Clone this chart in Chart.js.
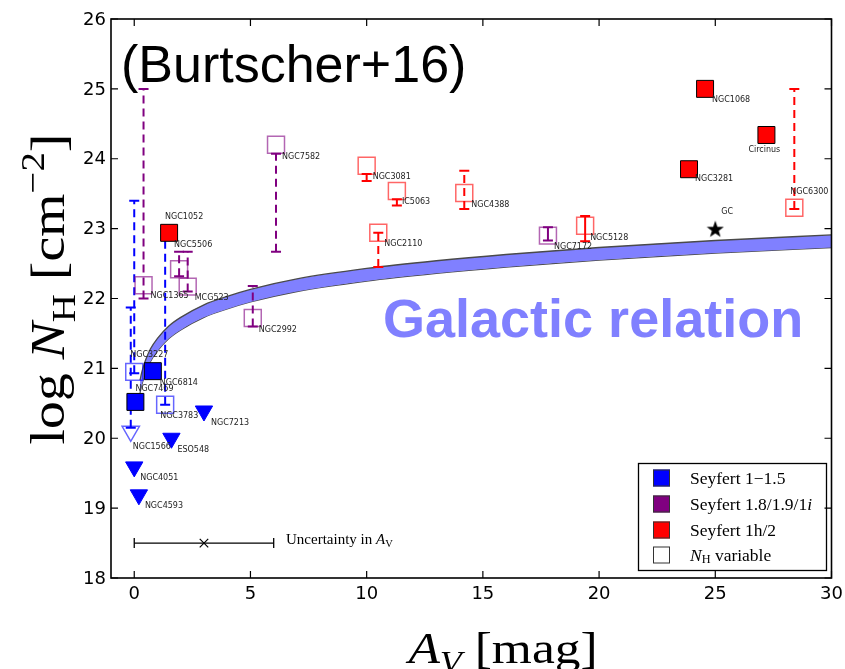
<!DOCTYPE html>
<html><head><meta charset="utf-8">
<script src="https://cdn.jsdelivr.net/npm/chart.js@4.4.0/dist/chart.umd.min.js"></script>
<style>html,body{margin:0;padding:0;background:#fff}#wrap{width:845px;height:669px}</style>
</head><body><div id="wrap"><canvas id="c" width="845" height="669"></canvas></div>
<script>
// ---------------- DATA ----------------
const xTicks = [0, 5, 10, 15, 20, 25, 30];
const yTicks = [18, 19, 20, 21, 22, 23, 24, 25, 26];

// Seyfert 1-1.5 (blue)
const s1FilledNames = ['NGC7469', 'NGC6814'];
const s1FilledX = [0.05, 0.8];
const s1FilledY = [20.52, 20.96];
const s1OpenNames = ['NGC3227', 'NGC3783'];
const s1OpenX = [0.0, 1.33];
const s1OpenY = [20.95, 20.48];
const s1UpperNames = ['NGC7213', 'ESO548', 'NGC4051', 'NGC4593'];
const s1UpperX = [3.0, 1.6, 0.0, 0.2];
const s1UpperY = [20.39, 20.0, 19.59, 19.19];
const s1OpenUpperNames = ['NGC1566'];
const s1OpenUpperX = [-0.15];
const s1OpenUpperY = [20.1];

// Seyfert 1.8/1.9/1i (purple), all NH variable
const s2OpenNames = ['NGC1365', 'NGC5506', 'MCG523', 'NGC2992', 'NGC7582', 'NGC7172'];
const s2OpenX = [0.4, 1.93, 2.3, 5.1, 6.1, 17.8];
const s2OpenY = [22.19, 22.42, 22.17, 21.72, 24.2, 22.9];

// Seyfert 1h/2 (red)
const s3FilledNames = ['NGC1052', 'NGC1068', 'Circinus', 'NGC3281'];
const s3FilledX = [1.5, 24.56, 27.2, 23.87];
const s3FilledY = [22.94, 25.0, 24.34, 23.85];
const s3OpenNames = ['NGC3081', 'IC5063', 'NGC4388', 'NGC2110', 'NGC5128', 'NGC6300'];
const s3OpenX = [10.0, 11.3, 14.2, 10.5, 19.4, 28.4];
const s3OpenY = [23.9, 23.54, 23.51, 22.94, 23.04, 23.3];

// Galactic centre
const gcNames = ['GC'];
const gcX = [25.0];
const gcY = [23.0];

// NH ranges / error bars
const ebNames = ['NGC3227','NGC1566','NGC3783','NGC1365','NGC5506','MCG523','NGC2992','NGC7582','NGC7172','NGC3081','IC5063','NGC4388','NGC2110','NGC5128','NGC6300'];
const ebClass = ['s1','s1','s1','s2','s2','s2','s2','s2','s2','s3','s3','s3','s3','s3','s3'];
const ebX  = [0.0, -0.15, 1.33, 0.4, 1.93, 2.3, 5.1, 6.1, 17.8, 10.0, 11.3, 14.2, 10.5, 19.4, 28.4];
const ebLo = [20.93, 20.15, 20.48, 22.0, 22.32, 22.1, 21.6, 22.67, 22.83, 23.68, 23.33, 23.28, 22.45, 22.82, 23.28];
const ebHi = [23.4, 21.87, 23.0, 25.0, 22.67, 22.67, 22.18, 24.07, 23.02, 23.78, 23.42, 23.83, 22.94, 23.18, 25.0];
const ebVariable = [true, true, true, true, true, true, true, true, false, false, false, true, true, false, true];

// Galactic relation band
const galAv    = [0.25, 0.3, 0.4, 0.5, 0.7, 1, 1.5, 2, 3, 4, 5, 7, 10, 13, 16, 20, 25, 30];
const galLower = [20.65, 20.73, 20.85, 20.95, 21.10, 21.25, 21.43, 21.55, 21.73, 21.85, 21.95, 22.10, 22.25, 22.36, 22.45, 22.55, 22.65, 22.73];
const galUpper = [20.83, 20.91, 21.03, 21.13, 21.28, 21.43, 21.61, 21.73, 21.91, 22.03, 22.13, 22.28, 22.43, 22.54, 22.63, 22.73, 22.83, 22.91];

// Uncertainty in A_V
const uncAv = [3];
const uncErr = [3];
const uncY = [18.5];

// ---------------- STYLE ----------------
const COL = {s1:'#0000ff', s2:'#800080', s3:'#ff0000'};
const COLA = {s1:'rgba(0,0,255,0.6)', s2:'rgba(128,0,128,0.6)', s3:'rgba(255,0,0,0.6)'};
const labelOffset = {
  NGC1068:[7,11], Circinus:[-18,15], NGC3281:[6,10], NGC6300:[-4,-16], GC:[6,-17],
  NGC3081:[6,11], IC5063:[5,11], NGC4388:[7,12], NGC2110:[6,11], NGC7172:[6,11],
  NGC5128:[5,12], NGC7582:[6,12], NGC2992:[6,12], NGC1052:[-4,-16], NGC5506:[-5,-24],
  NGC1365:[7,11], MCG523:[7,11], NGC3227:[-4,-17], NGC7469:[0,-13], NGC6814:[7,12],
  NGC3783:[-5,11], NGC7213:[7,12], NGC1566:[2,16], ESO548:[6,12], NGC4051:[6,11], NGC4593:[6,11]
};

function pts(xs, ys){ return xs.map((x,i)=>({x, y:ys[i]})); }

function makeStar(size){
  const c = document.createElement('canvas'); c.width = size; c.height = size;
  const g = c.getContext('2d'); g.fillStyle = '#000'; g.beginPath();
  const cx = size/2, cy = size/2 + size*0.06, R = size/2, r = R*0.4;
  for (let i=0;i<10;i++){ const a = -Math.PI/2 + i*Math.PI/5; const rr = i%2 ? r : R; g.lineTo(cx+rr*Math.cos(a), cy+rr*Math.sin(a)); }
  g.closePath(); g.fill(); return c;
}
const starImg = makeStar(18);

const datasets = [];
// band
datasets.push({type:'line', data:pts(galAv, galLower), borderColor:'#4a4a4a', borderWidth:1.3, pointRadius:0, fill:false, cubicInterpolationMode:'monotone', order:20});
datasets.push({type:'line', data:pts(galAv, galUpper), borderColor:'#4a4a4a', borderWidth:1.3, pointRadius:0, fill:'-1', backgroundColor:'#8080ff', cubicInterpolationMode:'monotone', order:19});
// error bars
ebNames.forEach((n,i)=>{
  datasets.push({type:'line', data:[{x:ebX[i], y:ebLo[i]},{x:ebX[i], y:ebHi[i]}], borderColor:COL[ebClass[i]], borderWidth:2,
    borderDash: ebVariable[i] ? [8,5] : [], pointStyle:'line', pointRadius:5, pointBorderWidth:2, pointBorderColor:COL[ebClass[i]], fill:false, order:10});
});
// uncertainty bar
datasets.push({type:'line', data:[{x:uncAv[0]-uncErr[0], y:uncY[0]},{x:uncAv[0]+uncErr[0], y:uncY[0]}], borderColor:'#000', borderWidth:1.3,
  pointStyle:'line', rotation:90, pointRadius:5, pointBorderWidth:1.3, pointBorderColor:'#000', fill:false, order:9});
datasets.push({type:'scatter', data:pts(uncAv, uncY), pointStyle:'crossRot', pointRadius:6, pointBorderColor:'#000', pointBorderWidth:1.2, order:8});
// markers
function sq(xs, ys, fillCol, edge, lw, names){ return {type:'scatter', data:pts(xs,ys), names, pointStyle:'rect', pointRadius:12, pointBackgroundColor:fillCol, pointBorderColor:edge, pointBorderWidth:lw, order:1}; }
datasets.push(sq(s1FilledX, s1FilledY, '#0000ff', '#000', 1, s1FilledNames));
datasets.push(sq(s1OpenX, s1OpenY, 'rgba(0,0,0,0)', COLA.s1, 1.5, s1OpenNames));
datasets.push({type:'scatter', data:pts(s1UpperX, s1UpperY), names:s1UpperNames, pointStyle:'triangle', rotation:180, pointRadius:10, pointBackgroundColor:'#0000ff', pointBorderColor:'#0000ff', pointBorderWidth:1, order:1});
datasets.push({type:'scatter', data:pts(s1OpenUpperX, s1OpenUpperY), names:s1OpenUpperNames, pointStyle:'triangle', rotation:180, pointRadius:10, pointBackgroundColor:'rgba(0,0,0,0)', pointBorderColor:COLA.s1, pointBorderWidth:1.5, order:1});
datasets.push(sq(s2OpenX, s2OpenY, 'rgba(0,0,0,0)', COLA.s2, 1.5, s2OpenNames));
datasets.push(sq(s3FilledX, s3FilledY, '#ff0000', '#000', 1, s3FilledNames));
datasets.push(sq(s3OpenX, s3OpenY, 'rgba(0,0,0,0)', COLA.s3, 1.5, s3OpenNames));
datasets.push({type:'scatter', data:pts(gcX, gcY), names:gcNames, pointStyle:starImg, pointRadius:9, order:1});

// rich text helper
function drawRich(ctx, segs, x, y, size, family, align){
  const parts = segs.map(s=>{
    const sz = (s.sub||s.sup) ? size*0.7 : size;
    const f = (s.it ? 'italic ' : '') + sz + 'px ' + family;
    ctx.font = f; return {t:s.t, f, w:ctx.measureText(s.t).width, dy: s.sub ? size*0.22 : (s.sup ? -size*0.42 : 0)};
  });
  const tw = parts.reduce((a,p)=>a+p.w,0);
  let cx = align==='center' ? x - tw/2 : x;
  ctx.textAlign = 'left';
  parts.forEach(p=>{ ctx.font = p.f; ctx.fillText(p.t, cx, y + p.dy); cx += p.w; });
}

const decor = {
  id:'decor',
  afterDatasetsDraw(chart){
    const {ctx, chartArea:a, scales:{x, y}} = chart;
    ctx.save();
    // point labels
    ctx.fillStyle = '#222'; ctx.font = '8px "DejaVu Sans"'; ctx.textBaseline = 'middle'; ctx.textAlign = 'left';
    chart.data.datasets.forEach(ds=>{
      if (!ds.names) return;
      ds.data.forEach((p,i)=>{
        const n = ds.names[i]; const o = labelOffset[n] || [6,11];
        ctx.fillText(n, x.getPixelForValue(p.x)+o[0], y.getPixelForValue(p.y)+o[1]);
      });
    });
    // big texts
    ctx.textBaseline = 'alphabetic';
    ctx.fillStyle = '#8080ff'; ctx.font = 'bold 54px "Liberation Sans"';
    ctx.fillText('Galactic relation', 383, 337);
    ctx.fillStyle = '#000'; ctx.font = '52px "Liberation Sans"';
    ctx.fillText('(Burtscher+16)', 121, 82);
    // uncertainty text
    drawRich(ctx, [{t:'Uncertainty in '},{t:'A',it:true},{t:'V',sub:true}], 286, 544, 15, '"Liberation Serif"', 'left');
    // legend
    ctx.lineWidth = 1.3; ctx.strokeStyle = '#000';
    ctx.strokeRect(638.5, 463.5, 188, 107);
    const rows = [[478,'#0000ff',[{t:'Seyfert 1−1.5'}]],[504,'#800080',[{t:'Seyfert 1.8/1.9/1'},{t:'i',it:true}]],[530,'#ff0000',[{t:'Seyfert 1h/2'}]],[555,'#ffffff',[{t:'N',it:true},{t:'H',sub:true},{t:' variable'}]]];
    rows.forEach(r=>{
      ctx.fillStyle = r[1]; ctx.fillRect(653, r[0]-8.5, 17, 17);
      ctx.lineWidth = 1; ctx.strokeStyle = '#333'; ctx.strokeRect(653.5, r[0]-8, 16, 16);
      ctx.fillStyle = '#000'; ctx.textBaseline = 'middle';
      drawRich(ctx, r[2], 690, r[0]+1, 17.5, '"Liberation Serif"', 'left');
    });
    ctx.textBaseline = 'alphabetic';
    // frame
    ctx.strokeStyle = '#000'; ctx.lineWidth = 1.6;
    ctx.strokeRect(a.left, a.top, a.right-a.left, a.bottom-a.top);
    // inward ticks and tick labels
    ctx.lineWidth = 1.2;
    ctx.fillStyle = '#000'; ctx.font = '18px "DejaVu Sans"';
    xTicks.forEach(v=>{ const px = x.getPixelForValue(v);
      ctx.beginPath(); ctx.moveTo(px, a.bottom); ctx.lineTo(px, a.bottom-7); ctx.moveTo(px, a.top); ctx.lineTo(px, a.top+7); ctx.stroke();
      ctx.textAlign = 'center'; ctx.textBaseline = 'middle'; ctx.fillText(String(v), px, a.bottom + 16); });
    yTicks.forEach(v=>{ const py = y.getPixelForValue(v);
      ctx.beginPath(); ctx.moveTo(a.left, py); ctx.lineTo(a.left+7, py); ctx.moveTo(a.right, py); ctx.lineTo(a.right-7, py); ctx.stroke();
      ctx.textAlign = 'right'; ctx.textBaseline = 'middle'; ctx.fillText(String(v), a.left - 5, py + 1); });
    ctx.textBaseline = 'alphabetic';
    // axis titles
    ctx.save();
    ctx.translate(503, 663); ctx.scale(1.17, 1);
    drawRich(ctx, [{t:'A',it:true},{t:'V',sub:true,it:true},{t:' [mag]'}], 0, 0, 44, '"Liberation Serif"', 'center');
    ctx.restore();
    ctx.save();
    ctx.translate(64, 289); ctx.rotate(-Math.PI/2); ctx.scale(1.16, 1);
    drawRich(ctx, [{t:'log '},{t:'N',it:true},{t:'H',sub:true},{t:' [cm'},{t:'−2',sup:true},{t:']'}], 0, 0, 48, '"Liberation Serif"', 'center');
    ctx.restore();
    ctx.restore();
  }
};

const chart = new Chart(document.getElementById('c'), {
  type:'scatter',
  data:{datasets},
  options:{
    responsive:false, animation:false,
    layout:{padding:{top:19, right:11, left:0, bottom:0}},
    plugins:{legend:{display:false}, tooltip:{enabled:false}},
    scales:{
      x:{type:'linear', min:-1, max:30,
        afterBuildTicks:s=>{ s.ticks = xTicks.map(v=>({value:v})); },
        afterFit:s=>{ s.height = 91; },
        grid:{display:false}, border:{display:false},
        ticks:{display:false}},
      y:{type:'linear', min:18, max:26,
        afterBuildTicks:s=>{ s.ticks = yTicks.map(v=>({value:v})); },
        afterFit:s=>{ s.width = 111; },
        grid:{display:false}, border:{display:false},
        ticks:{display:false}}
    }
  },
  plugins:[decor]
});
// align plot area with the reference frame (left 111, right 834, top 19, bottom 578)
const pad = chart.options.layout.padding;
const ca = chart.chartArea;
pad.right += ca.right - 834;
pad.top += 19 - ca.top;
chart.update();
</script></body></html>
